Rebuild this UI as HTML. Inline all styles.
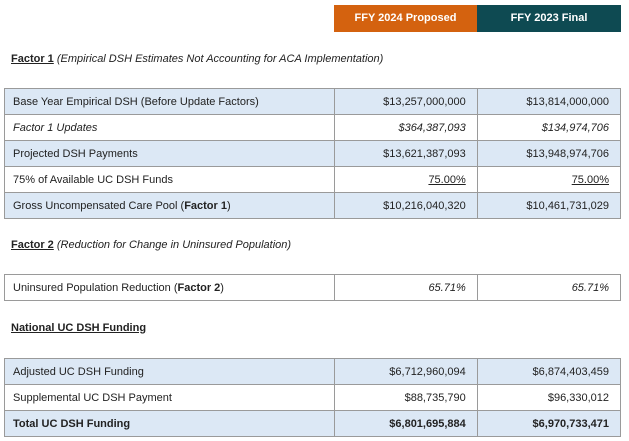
<!DOCTYPE html>
<html><head><meta charset="utf-8"><style>
body{margin:0;width:629px;height:441px;background:#fff;font-family:"Liberation Sans",sans-serif;font-size:11px;color:#222;position:relative;overflow:hidden}
.hdr{position:absolute;top:5px;height:27px;line-height:27px;color:#fff;font-weight:bold;text-align:center;font-size:11px}
.ttl{position:absolute;left:11px;font-size:11px}
.ttl u{font-weight:bold}
table{position:absolute;left:4px;width:617px;border-collapse:collapse;table-layout:fixed}
td{border:1px solid #9a9a9a;height:25px;padding:0 11px 0 8px;white-space:nowrap}
td.v{text-align:right}
tr.b td{background:#dce8f5}
col.a{width:329px}col.c{width:143px}
</style></head><body>
<div class="hdr" style="left:334px;width:143px;background:#d4620f">FFY 2024 Proposed</div>
<div class="hdr" style="left:477px;width:144px;background:#0e4a52">FFY 2023 Final</div>
<div class="ttl" style="top:53px"><u>Factor 1</u> <i>(Empirical DSH Estimates Not Accounting for ACA Implementation)</i></div>
<table style="top:88px"><colgroup><col class="a"><col class="c"><col class="c"></colgroup>
<tr class="b"><td>Base Year Empirical DSH (Before Update Factors)</td><td class="v">$13,257,000,000</td><td class="v">$13,814,000,000</td></tr>
<tr><td><i>Factor 1 Updates</i></td><td class="v"><i>$364,387,093</i></td><td class="v"><i>$134,974,706</i></td></tr>
<tr class="b"><td>Projected DSH Payments</td><td class="v">$13,621,387,093</td><td class="v">$13,948,974,706</td></tr>
<tr><td>75% of Available UC DSH Funds</td><td class="v"><u>75.00%</u></td><td class="v"><u>75.00%</u></td></tr>
<tr class="b"><td>Gross Uncompensated Care Pool (<b>Factor 1</b>)</td><td class="v">$10,216,040,320</td><td class="v">$10,461,731,029</td></tr>
</table>
<div class="ttl" style="top:239px"><u>Factor 2</u> <i>(Reduction for Change in Uninsured Population)</i></div>
<table style="top:274px"><colgroup><col class="a"><col class="c"><col class="c"></colgroup>
<tr><td>Uninsured Population Reduction (<b>Factor 2</b>)</td><td class="v"><i>65.71%</i></td><td class="v"><i>65.71%</i></td></tr>
</table>
<div class="ttl" style="top:322px"><u>National UC DSH Funding</u></div>
<table style="top:358px"><colgroup><col class="a"><col class="c"><col class="c"></colgroup>
<tr class="b"><td>Adjusted UC DSH Funding</td><td class="v">$6,712,960,094</td><td class="v">$6,874,403,459</td></tr>
<tr><td>Supplemental UC DSH Payment</td><td class="v">$88,735,790</td><td class="v">$96,330,012</td></tr>
<tr class="b"><td><b>Total UC DSH Funding</b></td><td class="v"><b>$6,801,695,884</b></td><td class="v"><b>$6,970,733,471</b></td></tr>
</table>
</body></html>
